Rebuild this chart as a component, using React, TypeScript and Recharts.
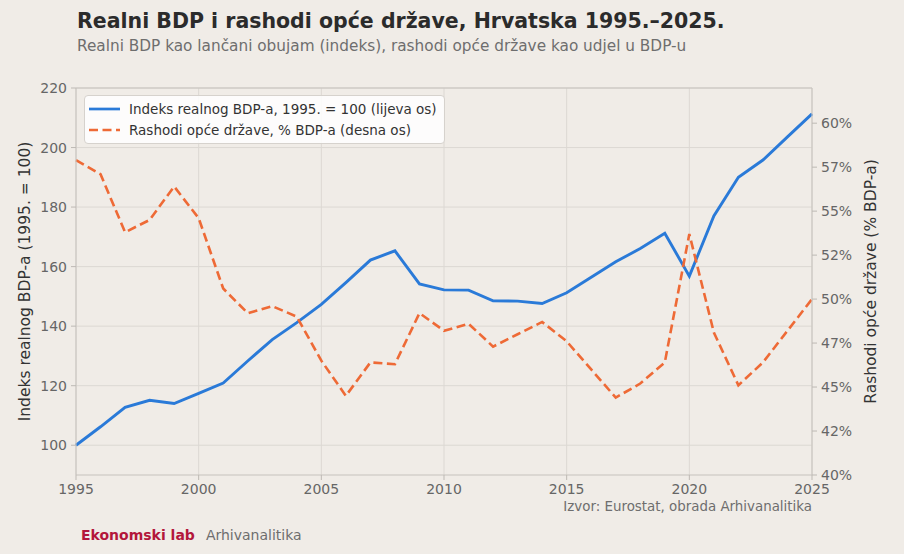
import React from "react";
import {
  LineChart,
  Line,
  XAxis,
  YAxis,
  CartesianGrid,
  ReferenceLine,
} from "recharts";

const years = [
  1995, 1996, 1997, 1998, 1999, 2000, 2001, 2002, 2003, 2004, 2005, 2006,
  2007, 2008, 2009, 2010, 2011, 2012, 2013, 2014, 2015, 2016, 2017, 2018,
  2019, 2020, 2021, 2022, 2023, 2024, 2025,
];

const gdpIndex = [
  100, 106.2, 112.7, 115.1, 114.0, 117.4, 120.9, 128.3, 135.5, 141.2, 147.3,
  154.6, 162.2, 165.3, 154.2, 152.2, 152.1, 148.5, 148.4, 147.6, 151.2, 156.4,
  161.6, 166.1, 171.2, 156.8, 177.0, 190.0, 195.8, 203.6, 211.3,
];

const spendingPct = [
  57.9, 57.1, 53.8, 54.5, 56.4, 54.6, 50.6, 49.2, 49.6, 49.0, 46.5, 44.5, 46.4,
  46.3, 49.2, 48.2, 48.6, 47.3, 48.0, 48.7, 47.6, 46.0, 44.4, 45.2, 46.4, 53.7,
  48.1, 45.1, 46.4, 48.2, 50.0,
];

const xTicks = [1995, 2000, 2005, 2010, 2015, 2020, 2025];
const leftTicks = [100, 120, 140, 160, 180, 200, 220];
const rightTicks = [40, 42.5, 45, 47.5, 50, 52.5, 55, 57.5, 60];

const BLUE = "#2a7ad8";
const ORANGE = "#ee6a36";
const BG = "#f0ece7";
const FONT = "'DejaVu Sans', sans-serif";

const data = years.map((year, i) => ({
  year,
  gdp: gdpIndex[i],
  spending: spendingPct[i],
}));

function LegendBox() {
  const items = [
    { label: "Indeks realnog BDP-a, 1995. = 100 (lijeva os)", color: BLUE, dash: undefined },
    { label: "Rashodi opće države, % BDP-a (desna os)", color: ORANGE, dash: "9 4.5" },
  ];
  return (
    <div
      style={{
        position: "absolute",
        left: 84,
        top: 95,
        background: "rgba(255,255,255,0.85)",
        border: "1px solid #d6d2cd",
        borderRadius: 4,
        padding: "2px 7px 3px 3px",
        fontFamily: FONT,
        fontSize: 13.5,
        color: "#333",
      }}
    >
      {items.map((it) => (
        <div key={it.label} style={{ display: "flex", alignItems: "center", height: 21 }}>
          <svg width={41} height={10}>
            <line
              x1={1}
              y1={5}
              x2={32}
              y2={5}
              stroke={it.color}
              strokeWidth={2.7}
              strokeDasharray={it.dash}
            />
          </svg>
          <span>{it.label}</span>
        </div>
      ))}
    </div>
  );
}

export default function App() {
  return (
    <div
      style={{
        width: 904,
        height: 554,
        background: BG,
        position: "relative",
        fontFamily: FONT,
        overflow: "hidden",
      }}
    >
      <style>{"body{margin:0}"}</style>
      <div
        style={{
          position: "absolute",
          left: 77,
          top: 9,
          fontSize: 20.5,
          fontWeight: "bold",
          color: "#2b2b2b",
          whiteSpace: "nowrap",
        }}
      >
        Realni BDP i rashodi opće države, Hrvatska 1995.–2025.
      </div>
      <div
        style={{
          position: "absolute",
          left: 77,
          top: 37,
          fontSize: 15.3,
          color: "#6e6e6e",
          whiteSpace: "nowrap",
        }}
      >
        Realni BDP kao lančani obujam (indeks), rashodi opće države kao udjel u BDP-u
      </div>

      <div style={{ position: "absolute", left: 0, top: 0 }}>
        <LineChart
          width={904}
          height={554}
          data={data}
          margin={{ top: 88, left: 16, right: 20, bottom: 49 }}
        >
          <CartesianGrid
            yAxisId="left"
            stroke="#dcd8d3"
            strokeWidth={1}
            verticalValues={xTicks}
            horizontalValues={leftTicks}
          />
          <XAxis
            dataKey="year"
            type="number"
            domain={[1995, 2025]}
            ticks={xTicks}
            height={30}
            tick={{ fill: "#666", fontSize: 14, fontFamily: FONT }}
            tickLine={{ stroke: "#bdb9b4" }}
            axisLine={{ stroke: "#c6c2bd" }}
            tickSize={5}
            tickMargin={4}
          />
          <YAxis
            yAxisId="left"
            width={60}
            domain={[90, 220]}
            ticks={leftTicks}
            tick={{ fill: "#666", fontSize: 14, fontFamily: FONT }}
            tickLine={{ stroke: "#bdb9b4" }}
            axisLine={{ stroke: "#c6c2bd" }}
            tickSize={5}
            tickMargin={4}
            label={{
              value: "Indeks realnog BDP-a (1995. = 100)",
              angle: -90,
              position: "insideLeft",
              offset: 8,
              style: { fill: "#333", fontSize: 15.5, fontFamily: FONT, textAnchor: "middle" },
            }}
          />
          <YAxis
            yAxisId="right"
            orientation="right"
            width={72}
            domain={[40, 62]}
            ticks={rightTicks}
            tickFormatter={(v: number) => `${Math.floor(v)}%`}
            tick={{ fill: "#666", fontSize: 14, fontFamily: FONT }}
            tickLine={{ stroke: "#bdb9b4" }}
            axisLine={{ stroke: "#c6c2bd" }}
            tickSize={5}
            tickMargin={4}
            label={{
              value: "Rashodi opće države (% BDP-a)",
              angle: -90,
              position: "insideRight",
              offset: 14,
              style: { fill: "#333", fontSize: 15.5, fontFamily: FONT, textAnchor: "middle" },
            }}
          />
          <ReferenceLine yAxisId="left" y={220} stroke="#c6c2bd" />
          <Line
            yAxisId="left"
            dataKey="gdp"
            stroke={BLUE}
            strokeWidth={2.9}
            dot={false}
            isAnimationActive={false}
          />
          <Line
            yAxisId="right"
            dataKey="spending"
            stroke={ORANGE}
            strokeWidth={2.6}
            strokeDasharray="9 4.5"
            dot={false}
            isAnimationActive={false}
          />
        </LineChart>
      </div>

      <LegendBox />

      <div
        style={{
          position: "absolute",
          right: 904 - 812,
          top: 499,
          fontSize: 13.4,
          color: "#6e6e6e",
          whiteSpace: "nowrap",
        }}
      >
        Izvor: Eurostat, obrada Arhivanalitika
      </div>
      <div
        style={{
          position: "absolute",
          left: 81,
          top: 527,
          fontSize: 14,
          whiteSpace: "nowrap",
        }}
      >
        <span style={{ color: "#b3163b", fontWeight: "bold" }}>Ekonomski lab</span>
        <span style={{ color: "#6e6e6e", marginLeft: 11 }}>Arhivanalitika</span>
      </div>
    </div>
  );
}
